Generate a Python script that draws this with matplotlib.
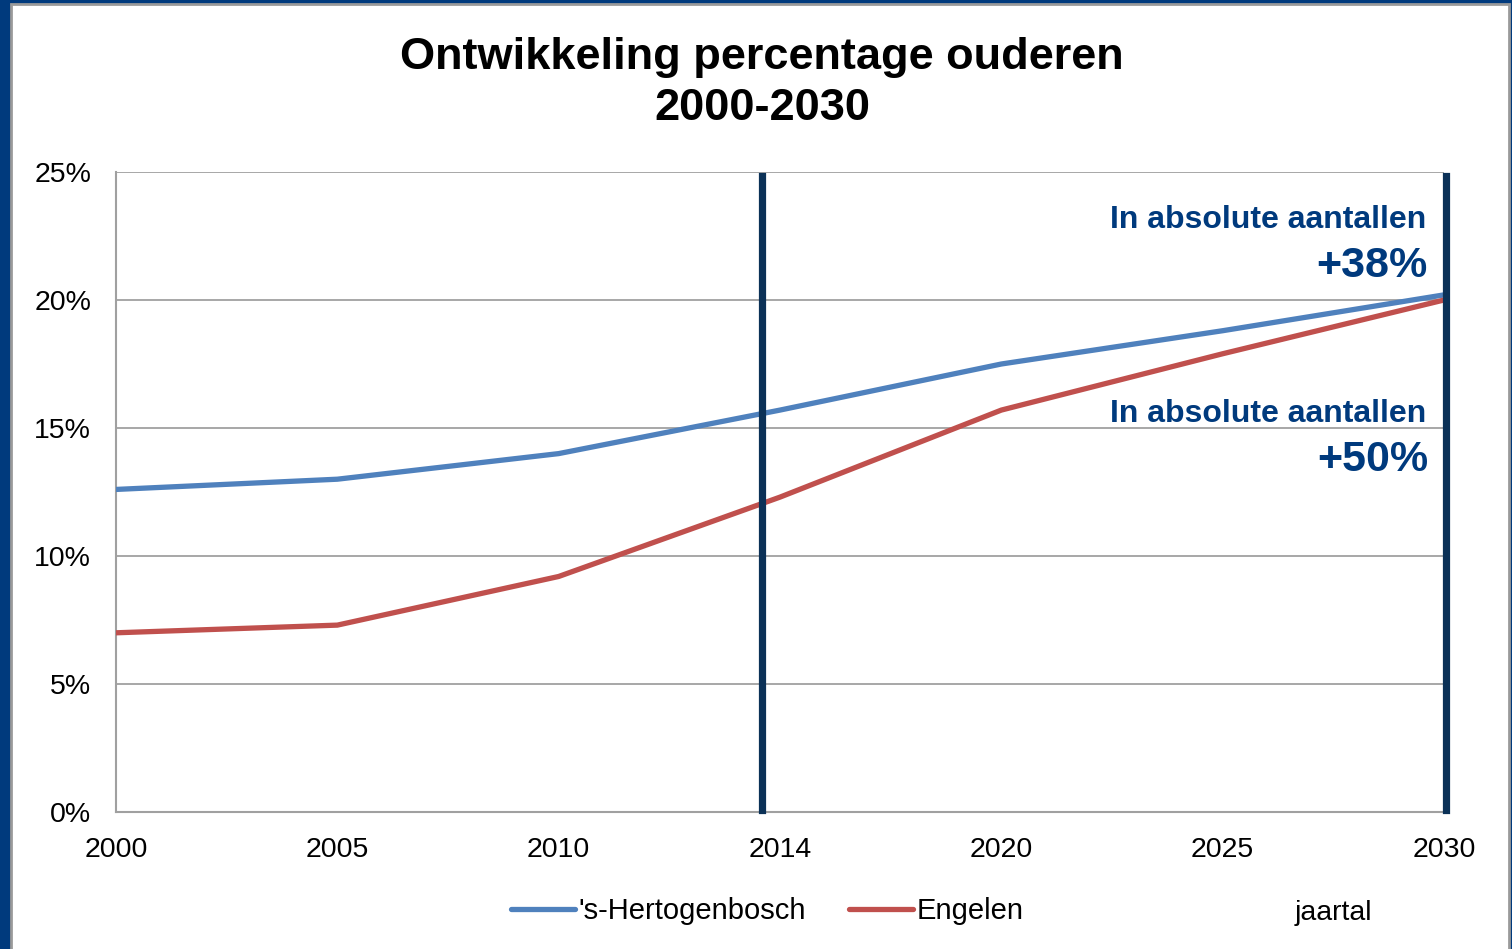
import matplotlib.pyplot as plt
from matplotlib.patches import Rectangle

plt.rcParams['font.family'] = ['Liberation Sans', 'DejaVu Sans']

jaren = ["2000", "2005", "2010", "2014", "2020", "2025", "2030"]
den_bosch = [12.6, 13.0, 14.0, 15.7, 17.5, 18.8, 20.2]
engelen = [7.0, 7.3, 9.2, 12.3, 15.7, 17.9, 20.0]
markeringen = ["2014", "2030"]
yticks = [0, 5, 10, 15, 20, 25]

donkerblauw = "#003A7D"

fig = plt.figure(figsize=(15.12, 9.49), dpi=100, facecolor=donkerblauw)
# witte achtergrond met grijze rand
fig.patches.append(Rectangle((11/1512, -0.01), 1498/1512, 1 - 4/949 + 0.01,
                             transform=fig.transFigure, facecolor="white",
                             edgecolor="#9a9a9a", linewidth=2, zorder=-10))

ax = fig.add_axes([116/1512, 1 - 812/949, (1444 - 116)/1512, (812 - 172)/949])
ax.patch.set_alpha(0)
x = list(range(len(jaren)))

ax.plot(x, den_bosch, color="#4F81BD", linewidth=3.8, label="'s-Hertogenbosch",
        solid_capstyle="round", zorder=3)
ax.plot(x, engelen, color="#C0504D", linewidth=3.8, label="Engelen",
        solid_capstyle="round", zorder=3)

# verticale lijnen (iets verschoven zoals in het origineel)
verschuiving = {"2014": -0.08, "2030": 0.01}
for m in markeringen:
    ax.axvline(jaren.index(m) + verschuiving[m], ymin=0.003, ymax=0.994,
               color="#0B3157", linewidth=5.2, zorder=4, clip_on=False)

ax.set_xlim(0, len(jaren) - 1)
ax.set_ylim(0, 25)
ax.set_yticks(yticks)
ax.set_yticklabels([f"{v}%" for v in yticks])
ax.set_xticks(x)
ax.set_xticklabels(jaren)
ax.tick_params(length=0, labelsize=20.5, colors="black")
ax.tick_params(axis="y", pad=18)
ax.tick_params(axis="x", pad=18)
ax.grid(axis="y", color="#a0a0a0", linewidth=1.3)
ax.set_axisbelow(True)
for s in ["top", "right"]:
    ax.spines[s].set_visible(False)
for s in ["left", "bottom"]:
    ax.spines[s].set_color("#a0a0a0")
    ax.spines[s].set_linewidth(1.5)

fig.text(762/1512, 1 - 57/949, "Ontwikkeling percentage ouderen",
         ha="center", va="center", fontsize=32.5, fontweight="bold")
fig.text(762/1512, 1 - 108/949, "2000-2030",
         ha="center", va="center", fontsize=32.5, fontweight="bold")

fig.text(1426/1512, 1 - 220/949, "In absolute aantallen", ha="right", va="center",
         fontsize=23, fontweight="bold", color=donkerblauw)
fig.text(1428/1512, 1 - 266/949, "+38%", ha="right", va="center",
         fontsize=31, fontweight="bold", color=donkerblauw)
fig.text(1426/1512, 1 - 414/949, "In absolute aantallen", ha="right", va="center",
         fontsize=23, fontweight="bold", color=donkerblauw)
fig.text(1428/1512, 1 - 460/949, "+50%", ha="right", va="center",
         fontsize=31, fontweight="bold", color=donkerblauw)

fig.legend(loc="center", bbox_to_anchor=(767/1512, 1 - 911/949), ncol=2,
           frameon=False, fontsize=21, handlelength=2.2, handletextpad=0.1,
           columnspacing=1.5)
fig.text(1333/1512, 1 - 913/949, "jaartal", ha="center", va="center", fontsize=20.5)

fig.savefig("out.png", dpi=100, facecolor=fig.get_facecolor())
